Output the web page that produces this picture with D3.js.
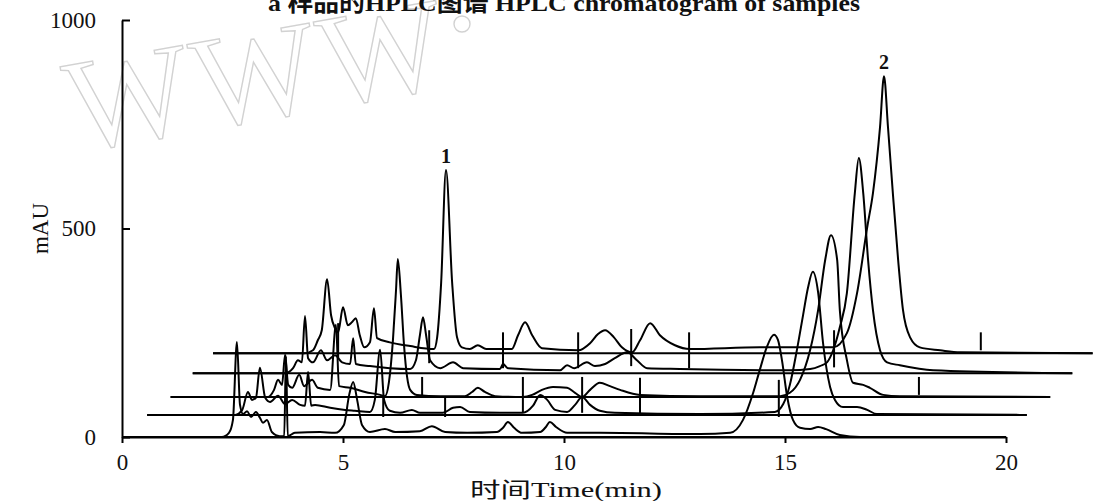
<!DOCTYPE html>
<html>
<head>
<meta charset="utf-8">
<script src="https://cdn.jsdelivr.net/npm/d3@7"></script>
<style>
  body { margin: 0; background: #fff; }
  svg { display: block; }
  text { font-family: "Liberation Serif", "Noto Sans CJK SC", serif; fill: #111; }
</style>
</head>
<body>
<div id="chart"></div>
<script>

/* five sample runs, [time (min), mAU] above each run's own baseline */
var trace0 = [[0,0],[2.26,0],[2.42,10],[2.51,41],[2.60,228],[2.67,77],[2.74,55],[2.83,62],[2.92,48],[3.03,60],[3.12,46],[3.19,34],[3.28,41],[3.39,12],[3.57,2],[3.67,2],[3.71,194],[3.75,2],[3.91,10],[4.48,12],[4.82,10],[5.02,29],[5.14,101],[5.23,132],[5.32,89],[5.43,29],[5.61,12],[5.95,19],[6.18,12],[6.74,14],[7.01,26],[7.31,12],[7.81,10],[8.48,12],[8.62,22],[8.73,36],[8.87,22],[9.05,10],[9.46,12],[9.59,24],[9.68,36],[9.82,24],[10.07,10],[10.81,10],[13.08,7],[13.76,10],[14.05,41],[14.28,106],[14.43,161],[14.59,216],[14.75,245],[14.84,233],[14.93,185],[15.05,96],[15.18,41],[15.34,22],[15.57,19],[15.75,24],[15.93,19],[16.24,5],[16.70,0],[20,0]];

var trace1 = [[0,0],[1.99,0],[2.15,12],[2.28,55],[2.37,36],[2.46,41],[2.55,113],[2.67,41],[2.78,31],[2.96,46],[3.12,26],[3.28,36],[3.46,24],[3.57,22],[3.64,103],[3.71,22],[3.80,24],[4.14,17],[4.48,12],[4.70,10],[5.04,7],[5.15,36],[5.27,156],[5.36,36],[5.49,10],[5.72,5],[5.99,12],[6.17,5],[6.69,5],[6.92,17],[7.08,19],[7.30,7],[7.98,5],[8.50,5],[8.73,22],[8.89,48],[9.05,36],[9.23,12],[9.50,7],[9.68,24],[9.84,43],[10.02,24],[10.24,10],[10.58,5],[12.51,2],[14.20,7],[14.39,26],[14.54,72],[14.70,156],[14.84,240],[14.95,305],[15.06,343],[15.18,293],[15.29,173],[15.45,67],[15.56,36],[15.74,19],[16.06,19],[16.29,12],[16.51,2],[19.9,0]];

var trace2 = [[0,0],[2.20,0],[2.34,17],[2.43,41],[2.52,29],[2.59,101],[2.66,29],[2.75,22],[2.91,53],[3.02,26],[3.20,41],[3.33,22],[3.61,17],[3.74,173],[3.81,26],[4.06,22],[4.40,12],[4.74,5],[4.85,2],[4.94,36],[5.03,137],[5.10,257],[5.14,331],[5.21,245],[5.28,125],[5.35,48],[5.42,17],[5.57,5],[6.10,2],[6.66,2],[6.82,12],[6.95,22],[7.11,12],[7.34,2],[7.97,0],[8.18,5],[8.40,17],[8.65,24],[8.97,22],[9.15,10],[9.31,0],[9.49,17],[9.71,34],[9.94,26],[10.17,17],[10.62,5],[11.98,2],[13.79,2],[14.01,10],[14.24,41],[14.47,113],[14.65,209],[14.81,329],[14.94,388],[15.08,329],[15.14,209],[15.30,89],[15.44,34],[15.67,29],[15.82,22],[16.12,5],[16.50,2],[19.9,0]];

var trace3 = [[0,0],[2.09,0],[2.27,12],[2.38,31],[2.47,26],[2.54,137],[2.61,36],[2.72,26],[2.90,55],[3.04,31],[3.22,43],[3.38,26],[3.56,22],[3.63,84],[3.69,22],[4.01,17],[4.46,12],[4.92,10],[5.05,31],[5.14,91],[5.21,134],[5.28,91],[5.37,31],[5.60,12],[5.89,26],[6.12,12],[6.95,10],[7.02,22],[7.13,12],[8.31,7],[8.47,19],[8.63,12],[8.92,26],[9.10,17],[9.33,22],[9.55,36],[9.83,50],[10.05,31],[10.28,12],[11.02,10],[13.51,7],[13.97,10],[14.19,17],[14.35,26],[14.49,55],[14.64,110],[14.80,192],[14.98,432],[15.07,516],[15.17,432],[15.28,271],[15.39,151],[15.55,55],[15.71,26],[16.00,19],[16.75,7],[19.9,0]];

var trace4 = [[0,0],[2.08,0],[2.26,7],[2.37,31],[2.46,55],[2.58,177],[2.67,91],[2.76,60],[2.83,50],[2.94,110],[3.05,67],[3.14,74],[3.23,84],[3.32,43],[3.42,14],[3.55,26],[3.64,108],[3.71,36],[4.00,26],[4.46,17],[5.00,10],[5.07,38],[5.16,168],[5.27,439],[5.41,168],[5.52,38],[5.63,14],[5.81,10],[5.99,19],[6.18,10],[6.76,10],[6.90,43],[7.06,74],[7.22,43],[7.44,12],[8.26,7],[8.53,24],[8.71,46],[8.87,55],[9.07,38],[9.25,14],[9.48,2],[9.66,31],[9.89,72],[10.11,43],[10.45,19],[10.79,10],[12.37,14],[13.51,14],[14.03,14],[14.34,48],[14.57,144],[14.80,302],[14.93,384],[15.09,542],[15.18,664],[15.27,542],[15.38,384],[15.50,223],[15.61,103],[15.77,38],[15.99,14],[16.45,7],[16.90,2],[19.9,0]];

var traces = [trace0, trace1, trace2, trace3, trace4];

// stacking offsets of the runs (min, mAU) and run lengths
var xOffset = [0, 0.57, 1.1, 1.6, 2.06];
var yOffset = [0, 53, 96, 153, 201];
var runLength = [20, 19.9, 19.9, 19.9, 19.9];

// event marks: [run, time, from mAU, to mAU]
var marks = [[3,7.02,12,98],[3,8.72,12,98],[3,9.92,17,106],[3,11.23,12,98],[3,14.51,14,103],[3,5.35,24,103],
             [1,8.50,5,91],[1,9.84,5,91],[1,11.15,0,89],[1,14.29,-5,84],[1,6.74,-5,43],[1,5.34,-5,43],
             [2,5.69,2,48],[2,16.93,5,48],
             [4,17.37,7,50],[4,2.83,-12,72]];

// peak numbers: [run, time, mAU, label]
var peakLabels = [[4, 5.27, 439, "1"], [4, 15.18, 664, "2"]];

var xTicks = [0, 5, 10, 15, 20];
var yTicks = [0, 500, 1000];

var width = 1094, height = 501;

var svg = d3.select("#chart")
        .append("svg")
        .attr("width", width)
        .attr("height", height);

var x = d3.scaleLinear().domain([0, 20]).range([122, 1006]);
var y = d3.scaleLinear().domain([0, 1000]).range([437, 20]);

/*watermark*/
svg.append("text")
    .attr("x", 75)
    .attr("y", 152)
    .attr("transform", "rotate(-10,75,152)")
    .style("font-size", "132px")
    .style("letter-spacing", "4px")
    .style("fill", "none")
    .style("stroke", "#d2d2d2")
    .style("stroke-width", 1.4)
    .text("WWW");

svg.append("circle")
    .attr("cx", 462)
    .attr("cy", 24)
    .attr("r", 8)
    .style("fill", "none")
    .style("stroke", "#d2d2d2")
    .style("stroke-width", 1.4);

/*title, cut by the top edge*/
svg.append("text")
    .attr("x", 564)
    .attr("y", 11)
    .attr("text-anchor", "middle")
    .attr("textLength", 592)
    .attr("lengthAdjust", "spacingAndGlyphs")
    .style("font-size", "24px")
    .style("font-weight", "bold")
    .text("a  样品的HPLC图谱  HPLC chromatogram of samples");

// axes
var xAxis = d3.axisBottom(x)
    .tickValues(xTicks)
    .tickSizeInner(6)
    .tickSizeOuter(0)
    .tickPadding(11)
    .tickFormat(d3.format("d"));

var gx = svg.append("g")
    .attr("transform", "translate(0," + y(0) + ")")
    .call(xAxis);

var yAxis = d3.axisLeft(y)
    .tickValues(yTicks)
    .tickSizeInner(-8)
    .tickSizeOuter(0)
    .tickPadding(26)
    .tickFormat(d3.format("d"));

var gy = svg.append("g")
    .attr("transform", "translate(" + x(0) + ",0)")
    .call(yAxis);

[gx, gy].forEach(function(g){
    g.select(".domain").attr("stroke", "#000").attr("stroke-width", 2);
    g.selectAll(".tick line").attr("stroke", "#000").attr("stroke-width", 2);
    g.selectAll(".tick text")
        .style("font-size", "23px")
        .style("font-family", "Liberation Serif")
        .attr("fill", "#111");
});

svg.append("text")
    .attr("transform", "translate(40," + y(500) + ") rotate(-90)")
    .attr("text-anchor", "middle")
    .attr("dy", "0.35em")
    .style("font-size", "23px")
    .text("mAU");

svg.append("text")
    .attr("x", 566)
    .attr("y", 497)
    .attr("text-anchor", "middle")
    .attr("textLength", 192)
    .attr("lengthAdjust", "spacingAndGlyphs")
    .style("font-size", "21px")
    .text("时间Time(min)");

// baselines of the stacked runs
traces.forEach(function(tr, k){
    svg.append("line")
        .attr("x1", x(xOffset[k]))
        .attr("x2", x(xOffset[k] + runLength[k]))
        .attr("y1", y(yOffset[k]))
        .attr("y2", y(yOffset[k]))
        .style("stroke", "#000")
        .style("stroke-width", 2);
});

// chromatograms
traces.forEach(function(tr, k){
    var line = d3.line()
        .x(function(d){ return x(d[0] + xOffset[k]); })
        .y(function(d){ return y(d[1] + yOffset[k]); })
        .curve(d3.curveMonotoneX);
    svg.append("path")
        .datum(tr)
        .attr("d", line)
        .style("fill", "none")
        .style("stroke", "#000")
        .style("stroke-width", 2)
        .style("stroke-linejoin", "round");
});

// marks
svg.selectAll(".mark")
    .data(marks)
    .enter().append("line")
    .attr("class", "mark")
    .attr("x1", function(d){ return x(d[1] + xOffset[d[0]]); })
    .attr("x2", function(d){ return x(d[1] + xOffset[d[0]]); })
    .attr("y1", function(d){ return y(d[2] + yOffset[d[0]]); })
    .attr("y2", function(d){ return y(d[3] + yOffset[d[0]]); })
    .style("stroke", "#000")
    .style("stroke-width", 2);

svg.selectAll(".peaklabel")
    .data(peakLabels)
    .enter().append("text")
    .attr("class", "peaklabel")
    .attr("x", function(d){ return x(d[1] + xOffset[d[0]]); })
    .attr("y", function(d){ return y(d[2] + yOffset[d[0]]) - 7; })
    .attr("text-anchor", "middle")
    .style("font-size", "20px")
    .style("font-weight", "bold")
    .text(function(d){ return d[3]; });

</script>
</body>
</html>
